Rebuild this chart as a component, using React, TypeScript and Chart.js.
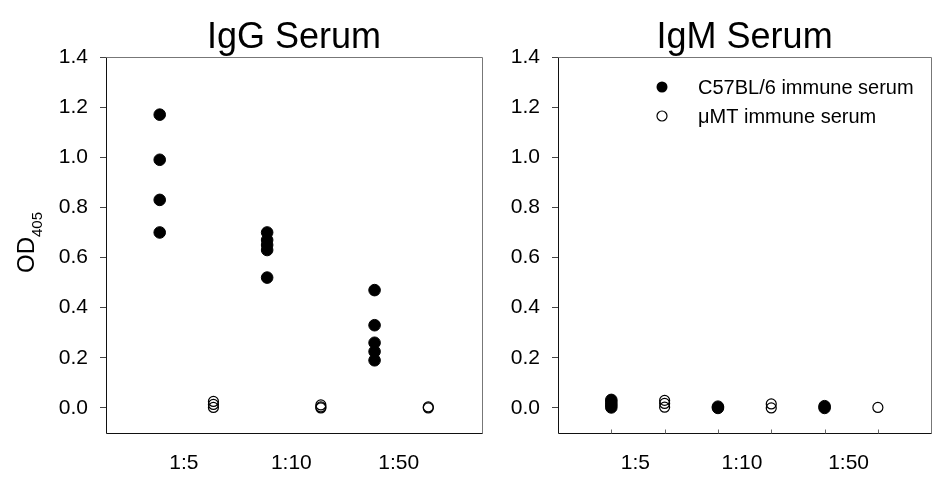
import React, { useEffect, useRef } from 'react';
import { Chart, registerables } from 'chart.js';

Chart.register(...registerables);

const FONT = '"Liberation Sans", Arial, sans-serif';

// Dilution groups; C57BL/6 points sit at x = 2i+1, µMT points at x = 2i+2
const categories = ['1:5', '1:10', '1:50'];
const yTicks = [0, 0.2, 0.4, 0.6, 0.8, 1.0, 1.2, 1.4];
const legendLabels = ['C57BL/6 immune serum', 'μMT immune serum'];
const titles = ['IgG Serum', 'IgM Serum'];

// IgG serum OD405 values per dilution
const iggC57 = [
  [1.17, 0.99, 0.83, 0.7],
  [0.7, 0.67, 0.65, 0.63, 0.52],
  [0.47, 0.33, 0.26, 0.225, 0.19],
];
const iggMuMT = [
  [0.026, 0.014, 0.002],
  [0.012, 0.004, 0.0],
  [0.004, 0.0],
];

// IgM serum OD405 values per dilution
const igmC57 = [
  [0.032, 0.022, 0.012, 0.002],
  [0.005, 0.0],
  [0.007, 0.0],
];
const igmMuMT = [
  [0.03, 0.018, 0.003],
  [0.016, 0.0],
  [0.002],
];

const LABEL_OFFSET = 0.45;

function toPoints(groups: number[][], offset: number) {
  return groups.flatMap((vals, i) => vals.map((v) => ({ x: 2 * i + offset, y: v })));
}

type PanelOpts = {
  title: string;
  c57: number[][];
  mumt: number[][];
  yWidth: number;
  padRight: number;
  showOD: boolean;
  showLegend: boolean;
  innerTicks: boolean;
};

function makeConfig(o: PanelOpts): any {
  const framePlugin = {
    id: 'frame',
    beforeDatasetsDraw(chart: any) {
      const { ctx, chartArea } = chart;
      const l = Math.round(chartArea.left) + 0.5;
      const t = Math.round(chartArea.top) + 0.5;
      const r = Math.round(chartArea.right) + 0.5;
      const b = Math.round(chartArea.bottom) + 0.5;
      ctx.save();
      ctx.lineWidth = 1;
      ctx.strokeStyle = '#777';
      ctx.beginPath();
      ctx.moveTo(l, t);
      ctx.lineTo(r, t);
      ctx.lineTo(r, b);
      ctx.stroke();
      ctx.strokeStyle = '#111';
      ctx.beginPath();
      ctx.moveTo(l, t);
      ctx.lineTo(l, b);
      ctx.lineTo(r, b);
      ctx.stroke();
      if (o.innerTicks) {
        const xs = chart.scales.x;
        ctx.strokeStyle = '#666';
        for (let i = 0; i < categories.length * 2; i++) {
          const px = Math.round(xs.getPixelForValue(i + 1)) + 0.5;
          ctx.beginPath();
          ctx.moveTo(px, b);
          ctx.lineTo(px, b - 4);
          ctx.stroke();
        }
      }
      ctx.restore();
    },
    afterDraw(chart: any) {
      const { ctx, chartArea } = chart;
      if (o.showOD) {
        ctx.save();
        ctx.fillStyle = '#000';
        ctx.translate(34, 273);
        ctx.rotate(-Math.PI / 2);
        ctx.textBaseline = 'alphabetic';
        ctx.textAlign = 'left';
        ctx.font = `24px ${FONT}`;
        ctx.fillText('OD', 0, 0);
        const w = ctx.measureText('OD').width;
        ctx.font = `15px ${FONT}`;
        ctx.fillText('405', w, 8);
        ctx.restore();
      }
      if (o.showLegend) {
        ctx.save();
        const mx = chartArea.left + 104;
        const tx = chartArea.left + 140;
        const ys = [chartArea.top + 30, chartArea.top + 59];
        ctx.font = `20px ${FONT}`;
        ctx.textBaseline = 'middle';
        ctx.textAlign = 'left';
        ctx.fillStyle = '#000';
        ctx.strokeStyle = '#000';
        ctx.lineWidth = 1.2;
        ctx.beginPath();
        ctx.arc(mx, ys[0], 5.5, 0, Math.PI * 2);
        ctx.fill();
        ctx.beginPath();
        ctx.arc(mx, ys[1], 5, 0, Math.PI * 2);
        ctx.stroke();
        ctx.fillText(legendLabels[0], tx, ys[0] + 1);
        ctx.fillText(legendLabels[1], tx, ys[1] + 1);
        ctx.restore();
      }
    },
  };

  return {
    type: 'scatter',
    data: {
      datasets: [
        {
          label: legendLabels[0],
          data: toPoints(o.c57, 1),
          pointRadius: 5.8,
          pointBackgroundColor: '#000',
          pointBorderColor: '#000',
          pointBorderWidth: 1,
        },
        {
          label: legendLabels[1],
          data: toPoints(o.mumt, 2),
          pointRadius: 5,
          pointBackgroundColor: 'rgba(0,0,0,0)',
          pointBorderColor: '#000',
          pointBorderWidth: 1.2,
        },
      ],
    },
    options: {
      animation: false,
      responsive: false,
      layout: { padding: { left: 0, right: o.padRight, top: 0, bottom: 0 } },
      plugins: {
        legend: { display: false },
        tooltip: { enabled: false },
        title: {
          display: true,
          text: o.title,
          fullSize: false,
          color: '#000',
          font: { family: FONT, size: 36, weight: 'normal', lineHeight: 1.0 },
          padding: { top: 20, bottom: 1 },
        },
      },
      scales: {
        x: {
          type: 'linear',
          min: 0,
          max: 7,
          grid: { display: false },
          border: { display: false },
          afterBuildTicks: (scale: any) => {
            scale.ticks = categories.map((_, i) => ({ value: 2 * i + 1 + LABEL_OFFSET }));
          },
          afterFit: (scale: any) => {
            scale.height = 44;
          },
          ticks: {
            autoSkip: false,
            maxRotation: 0,
            padding: 10,
            color: '#000',
            font: { family: FONT, size: 21 },
            callback: (_v: any, i: number) => categories[i],
          },
        },
        y: {
          type: 'linear',
          min: -0.1,
          max: 1.4,
          grid: {
            display: true,
            drawOnChartArea: false,
            drawTicks: true,
            tickLength: 6,
            color: '#444',
          },
          border: { display: false },
          afterBuildTicks: (scale: any) => {
            scale.ticks = yTicks.map((v) => ({ value: v }));
          },
          afterFit: (scale: any) => {
            scale.width = o.yWidth;
          },
          ticks: {
            padding: 12,
            color: '#000',
            font: { family: FONT, size: 21 },
            callback: (v: any) => Number(v).toFixed(1),
          },
        },
      },
    },
    plugins: [framePlugin],
  };
}

function Panel({ opts, left, width }: { opts: PanelOpts; left: number; width: number }) {
  const ref = useRef<HTMLCanvasElement | null>(null);
  useEffect(() => {
    if (!ref.current) return;
    const chart = new Chart(ref.current, makeConfig(opts));
    return () => chart.destroy();
  }, []);
  return (
    <canvas
      ref={ref}
      width={width}
      height={477}
      style={{ position: 'absolute', left, top: 0, width, height: 477 }}
    />
  );
}

export default function App() {
  return (
    <div
      style={{
        position: 'absolute',
        left: 0,
        top: 0,
        width: 938,
        height: 477,
        background: '#fff',
        overflow: 'hidden',
      }}
    >
      <Panel
        left={0}
        width={490}
        opts={{
          title: titles[0],
          c57: iggC57,
          mumt: iggMuMT,
          yWidth: 106,
          padRight: 8,
          showOD: true,
          showLegend: false,
          innerTicks: false,
        }}
      />
      <Panel
        left={490}
        width={448}
        opts={{
          title: titles[1],
          c57: igmC57,
          mumt: igmMuMT,
          yWidth: 68,
          padRight: 5,
          showOD: false,
          showLegend: true,
          innerTicks: true,
        }}
      />
    </div>
  );
}
